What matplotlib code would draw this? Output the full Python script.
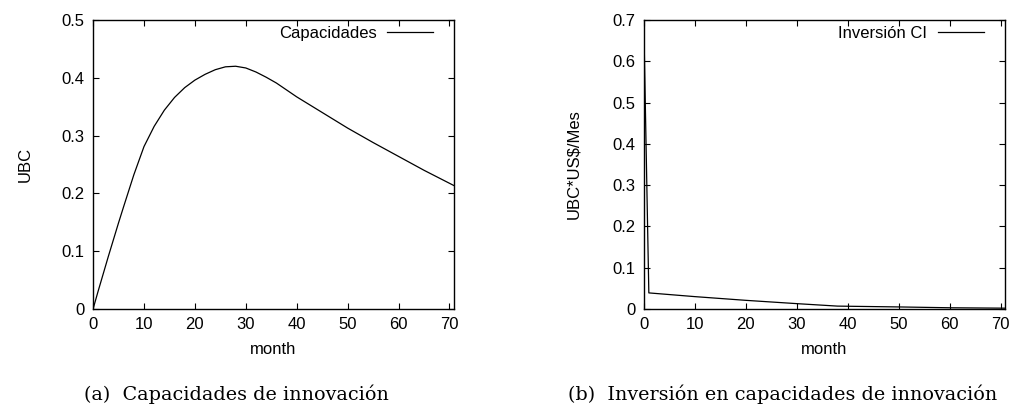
import matplotlib
matplotlib.use("Agg")
import matplotlib.pyplot as plt

# Innovation capacity (UBC) over time
cap_month = [0, 1, 2, 3, 4, 5, 6, 8, 10, 12, 14, 16, 18, 20, 22, 24, 26, 28, 30,
             32, 34, 36, 38, 40, 45, 50, 55, 60, 65, 71]
cap_value = [0.0, 0.031, 0.061, 0.091, 0.12, 0.149, 0.177, 0.232, 0.281, 0.316,
             0.344, 0.366, 0.383, 0.396, 0.406, 0.414, 0.419, 0.420, 0.417,
             0.410, 0.401, 0.391, 0.379, 0.367, 0.340, 0.313, 0.288, 0.264,
             0.240, 0.213]

# Investment in innovation capacity (UBC*US$/Mes)
inv_month = [0, 1, 10, 20, 30, 38, 50, 60, 71]
inv_value = [0.70, 0.039, 0.030, 0.021, 0.013, 0.007, 0.005, 0.003, 0.002]

x_ticks = [0, 10, 20, 30, 40, 50, 60, 70]
left_yticks = [0, 0.1, 0.2, 0.3, 0.4, 0.5]
right_yticks = [0, 0.1, 0.2, 0.3, 0.4, 0.5, 0.6, 0.7]

plt.rcParams["font.family"] = ["Liberation Sans", "DejaVu Sans"]

fig = plt.figure(figsize=(10.16, 4.09), dpi=100)
ax1 = fig.add_axes([0.0916, 0.2445, 0.3553, 0.7066])
ax2 = fig.add_axes([0.6336, 0.2445, 0.3553, 0.7066])

FS = 12


def fmt(v):
    return "0" if v == 0 else f"{v:g}"


def style(ax, yticks, ylim, xlim):
    ax.set_xlim(*xlim)
    ax.set_ylim(*ylim)
    ax.set_xticks(x_ticks)
    ax.set_yticks(yticks)
    ax.set_yticklabels([fmt(v) for v in yticks])
    ax.tick_params(direction="in", length=4, width=0.8, labelsize=FS,
                   top=True, right=True, pad=6, colors="black")
    for s in ax.spines.values():
        s.set_linewidth(1.0)
    ax.set_xlabel("month", fontsize=FS, labelpad=7)


ax1.plot(cap_month, cap_value, color="black", lw=0.9, label="Capacidades")
style(ax1, left_yticks, (0, 0.5), (0, 70.9))
ax1.set_ylabel("UBC", fontsize=FS, labelpad=21)

ax2.plot(inv_month, inv_value, color="black", lw=0.9, label="Inversión CI")
style(ax2, right_yticks, (0, 0.7), (0, 70.8))
ax2.set_ylabel("UBC*US\\$/Mes", fontsize=FS, labelpad=22)

for ax in (ax1, ax2):
    ax.legend(loc="center right", bbox_to_anchor=(0.942, 0.955),
              frameon=False, fontsize=FS, markerfirst=False,
              handlelength=2.75, borderaxespad=0, borderpad=0,
              handletextpad=0.65)

fig.text(0.233, 0.022, "(a)  Capacidades de innovación", ha="center",
         va="baseline", fontsize=13.8, family="DejaVu Serif")
fig.text(0.77, 0.022, "(b)  Inversión en capacidades de innovación",
         ha="center", va="baseline", fontsize=13.8, family="DejaVu Serif")

fig.savefig("out.png", dpi=100)
